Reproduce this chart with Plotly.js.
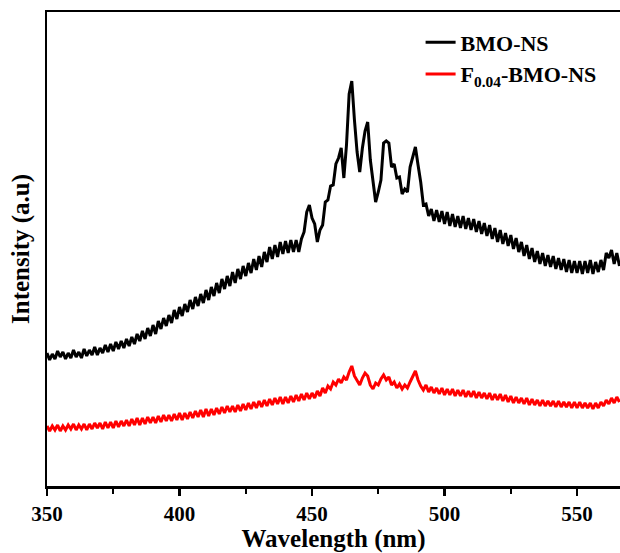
<!DOCTYPE html>
<html>
<head>
<meta charset="utf-8">
<script src="https://cdn.plot.ly/plotly-3.0.1.min.js"></script>
<style>html,body{margin:0;padding:0;background:#fff;}#chart{width:620px;height:553px;}</style>
</head>
<body>
<div id="chart"></div>
<script>
// Wavelength (nm), 1 nm steps from 350 to 566
const wavelengthStart = 350;
const wavelengthStep = 1;

// BMO-NS intensity (a.u.)
const bmoNS = [
133,126,132,127,135,129,134,127,133,128,
136,129,134,128,137,130,136,131,139,131,
138,133,141,134,142,135,144,137,145,138,
147,140,149,142,152,145,155,147,158,150,
161,152,165,157,168,160,171,163,176,167,
179,170,182,174,186,177,189,180,192,183,
196,186,199,190,203,193,207,197,210,200,
214,203,217,207,220,210,223,213,227,216,
230,219,234,224,239,227,241,229,244,232,
245,233,246,234,246,234,247,254,274,281,
268,262,244,256,261,284,286,300,301,322,
328,338,308,341,392,405,366,334,314,338,
355,364,326,304,284,294,306,343,345,343,
319,322,308,309,292,297,294,319,329,339,
321,304,281,282,270,277,265,276,264,275,
262,274,260,272,259,270,258,270,257,268,
256,267,254,265,252,263,250,261,247,258,
244,256,242,253,240,251,237,248,234,244,
230,241,227,238,224,235,222,233,220,231,
219,230,217,228,216,227,214,226,213,225,
213,225,212,225,213,226,212,224,214,226,
216,233,228,236,222,233,220
];

// F0.04-BMO-NS intensity (a.u.)
const fBmoNS = [
60,55,60,56,61,55,60,56,61,57,
62,56,61,57,62,56,62,57,63,58,
63,57,64,58,64,58,65,59,65,60,
66,60,67,61,68,61,68,62,69,63,
69,63,70,64,71,65,71,65,72,66,
73,66,73,67,74,68,75,69,76,69,
77,70,77,71,78,72,79,73,80,74,
80,74,81,75,82,76,83,77,84,78,
85,79,86,80,87,81,88,82,89,82,
89,83,90,84,91,85,92,86,93,87,
93,88,95,90,98,93,100,97,104,101,
107,103,109,106,114,120,110,106,101,108,
113,110,101,97,103,101,107,111,106,109,
101,104,98,102,97,101,98,104,109,115,
106,100,96,101,94,99,93,98,92,98,
91,97,91,97,90,96,90,96,89,95,
89,95,88,94,88,93,87,93,86,92,
86,92,85,91,84,90,83,89,83,88,
82,88,81,87,81,86,80,86,80,85,
80,85,79,85,79,84,79,84,78,84,
78,84,78,83,78,83,77,83,78,84,
80,86,82,88,83,89,84
];

const seriesNames = ['BMO-NS', 'F<sub>0.04</sub>-BMO-NS'];
const xTickVals = [350, 400, 450, 500, 550];
const xTickText = xTickVals.map(v => '<b>' + v + '</b>');

const wl = bmoNS.map((_, i) => wavelengthStart + i * wavelengthStep);

const serif = 'Liberation Serif';

const traces = [
  {x: wl, y: bmoNS, type: 'scatter', mode: 'lines', name: '<b>' + seriesNames[0] + '</b>',
   line: {color: '#000000', width: 3}},
  {x: wl, y: fBmoNS, type: 'scatter', mode: 'lines', name: '<b>' + seriesNames[1] + '</b>',
   line: {color: '#ff0000', width: 3}}
];

const layout = {
  width: 620, height: 553,
  margin: {l: 47, r: 0, t: 12, b: 67},
  paper_bgcolor: '#ffffff', plot_bgcolor: '#ffffff',
  showlegend: true,
  legend: {
    x: 0.652, y: 0.98, xanchor: 'left', yanchor: 'top',
    bgcolor: 'rgba(0,0,0,0)', borderwidth: 0,
    font: {family: serif, size: 22, color: '#000', weight: 700},
    tracegroupgap: 0
  },
  xaxis: {
    range: [350, 566.2],
    tickvals: xTickVals, ticktext: xTickText,
    ticks: 'outside', ticklen: 7, tickwidth: 2.5, tickcolor: '#000',
    minor: {dtick: 25, ticks: 'outside', ticklen: 5, tickwidth: 2, tickcolor: '#000', showgrid: false},
    showline: true, linecolor: '#000', linewidth: 2.5, mirror: true,
    showgrid: false, zeroline: false,
    tickfont: {family: serif, size: 21, color: '#000', weight: 700},
    title: {text: '<b>Wavelength (nm)</b>', standoff: 2,
            font: {family: serif, size: 25, color: '#000', weight: 700}}
  },
  yaxis: {
    range: [0, 474],
    showticklabels: false, ticks: '',
    showline: true, linecolor: '#000', linewidth: 2.5, mirror: false,
    showgrid: false, zeroline: false,
    title: {text: '<b>Intensity (a.u)</b>', standoff: 8,
            font: {family: serif, size: 25, color: '#000', weight: 700}}
  }
};

Plotly.newPlot('chart', traces, layout, {displayModeBar: false, staticPlot: true});
</script>
</body>
</html>
